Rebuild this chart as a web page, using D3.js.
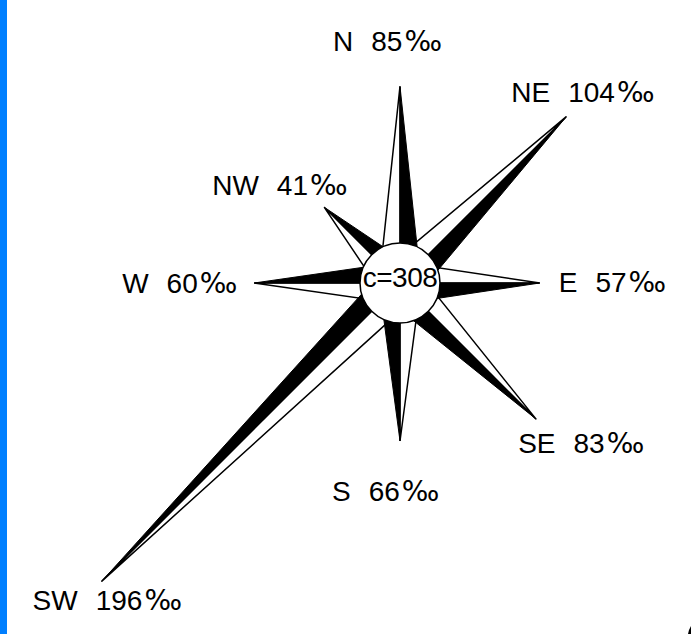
<!DOCTYPE html>
<html>
<head>
<meta charset="utf-8">
<script src="https://cdn.jsdelivr.net/npm/d3@7"></script>
<style>
  body { margin: 0; background: #fff; }
  svg { display: block; }
  text { font-family: "Liberation Sans", Arial, Helvetica, sans-serif; fill: #000; }
</style>
</head>
<body>
<div id="chart"></div>
<script>
const directions = ["N", "NE", "E", "SE", "S", "SW", "W", "NW"];
const values = [85, 104, 57, 83, 66, 196, 60, 41];
const total = 308;

const width = 691, height = 634;
const cx = 400, cy = 283;
const halfBase = 21, hubR = 40;

// label placement relative to each spike tip (left x, baseline y)
const labelOffset = {
  N: [-67, -35], NE: [-55, -15], E: [19, 9], SE: [-18, 34],
  S: [-68, 60], SW: [-69, 29], W: [-132, 10], NW: [-112, -12]
};

const svg = d3.select("#chart").append("svg")
  .attr("width", width)
  .attr("height", height);

svg.append("rect")
  .attr("x", 0).attr("y", 0)
  .attr("width", 7).attr("height", height)
  .attr("fill", "#007fff");

const r = d3.scaleLinear().domain([0, 196]).range([24, 422]);
const angle = d3.scalePoint().domain(directions).range([0, 315]);

const rose = svg.append("g").attr("transform", `translate(${cx},${cy})`);

const spikes = directions.map((d, i) => {
  const a = angle(d) * Math.PI / 180;
  const len = r(values[i]);
  const ux = Math.sin(a), uy = -Math.cos(a);
  const px = Math.cos(a), py = Math.sin(a);
  return {
    d, v: values[i],
    tip: [ux * len, uy * len],
    cw: [px * halfBase, py * halfBase],
    ccw: [-px * halfBase, -py * halfBase]
  };
});

const line = d3.line();

rose.selectAll("path.white").data(spikes).join("path")
  .attr("class", "white")
  .attr("d", s => line([s.tip, [0, 0], s.ccw]) + "Z")
  .attr("fill", "#fff")
  .attr("stroke", "#000")
  .attr("stroke-width", 1.5)
  .attr("stroke-linejoin", "miter");

rose.selectAll("path.black").data(spikes).join("path")
  .attr("class", "black")
  .attr("d", s => line([s.tip, [0, 0], s.cw]) + "Z")
  .attr("fill", "#000")
  .attr("stroke", "#000")
  .attr("stroke-width", 1);

rose.append("circle")
  .attr("r", hubR)
  .attr("fill", "#fff")
  .attr("stroke", "#000")
  .attr("stroke-width", 1.5);

rose.append("text")
  .attr("x", 0).attr("y", 4)
  .attr("text-anchor", "middle")
  .attr("font-size", 28)
  .attr("letter-spacing", -0.5)
  .text("c=" + total);

const labels = rose.selectAll("text.lab").data(spikes).join("text")
  .attr("class", "lab")
  .attr("font-size", 28)
  .attr("x", s => s.tip[0] + labelOffset[s.d][0])
  .attr("y", s => s.tip[1] + labelOffset[s.d][1]);

labels.append("tspan").text(s => s.d);
labels.append("tspan").attr("dx", 18).text(s => s.v);
labels.append("tspan")
  .attr("font-family", "DejaVu Sans")
  .attr("font-size", 28)
  .attr("dx", 2)
  .text("‰");

// small mark at bottom-right corner
svg.append("path")
  .attr("d", `M${width - 2},${height - 4}L${width},${height - 8}L${width},${height}L${width - 3},${height}Z`)
  .attr("fill", "#000");
</script>
</body>
</html>
